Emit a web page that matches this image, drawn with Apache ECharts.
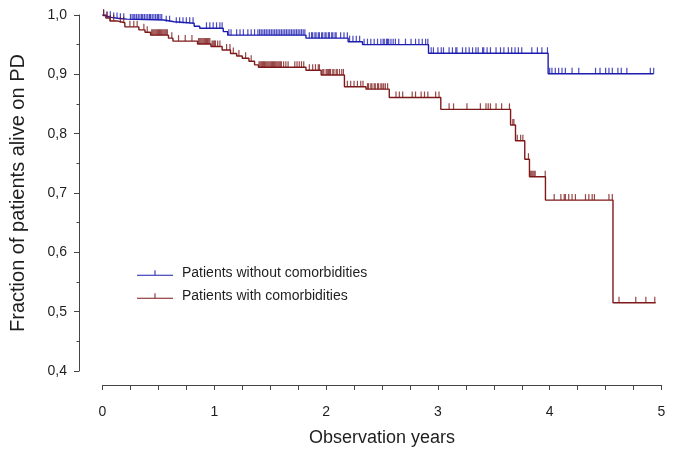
<!DOCTYPE html>
<html>
<head>
<meta charset="utf-8">
<script src="https://cdn.jsdelivr.net/npm/echarts@6/dist/echarts.min.js"></script>
<style>
html,body{margin:0;padding:0;background:#fff;}
#chart{width:678px;height:458px;}
</style>
</head>
<body>
<div id="chart"></div>
<script>
// ---- Data ----
var seriesNames = ['Patients without comorbidities', 'Patients with comorbidities'];

// Kaplan-Meier step points: time (years) and survival value from that time on
var blueTimes = [0, 0.01, 0.04, 0.08, 0.15, 0.22, 0.55, 0.64, 0.82, 0.87, 1.08, 1.12, 1.82, 2.197, 2.326, 2.916, 3.986];
var blueSurv  = [1.0, 0.998, 0.996, 0.994, 0.993, 0.9916, 0.9887, 0.986, 0.981, 0.9776, 0.972, 0.966, 0.961, 0.955, 0.950, 0.9355, 0.901];
var blueEnd = 4.93;

var redTimes = [0, 0.03, 0.067, 0.13, 0.20, 0.325, 0.38, 0.43, 0.59, 0.63, 0.85, 0.97, 1.07, 1.145, 1.20, 1.25, 1.31, 1.36, 1.395, 1.82, 1.956, 2.164, 2.357, 2.565, 3.026, 3.650, 3.694, 3.777, 3.819, 3.962, 4.566];
var redSurv  = [1.0, 0.995, 0.990, 0.987, 0.980, 0.975, 0.971, 0.966, 0.961, 0.956, 0.951, 0.947, 0.941, 0.935, 0.931, 0.927, 0.922, 0.916, 0.912, 0.907, 0.899, 0.879, 0.875, 0.861, 0.841, 0.8146, 0.788, 0.757, 0.7275, 0.688, 0.515];
var redEnd = 4.948;

// Censoring times (years)
var blueCensor = [0.01,0.04,0.07,0.10,0.13,0.16,0.19,
  0.25,0.265,0.28,0.29,0.305,0.32,0.335,0.35,0.36,0.375,0.39,0.405,0.42,0.43,0.445,0.46,0.475,0.49,0.50,0.515,0.53,
  0.57,0.60,0.66,0.69,0.72,0.75,0.78,0.81,
  0.93,0.96,0.99,1.02,1.05,1.07,
  1.13,1.15,1.20,1.23,1.26,1.30,1.33,1.36,
  1.39,1.405,1.42,1.435,1.45,1.465,1.48,1.495,1.51,1.525,1.54,1.555,1.57,1.585,1.60,1.615,1.63,1.645,1.66,1.675,1.69,1.705,1.72,1.735,1.75,1.765,1.78,1.795,1.81,
  1.85,1.87,1.88,1.90,1.91,1.93,1.94,1.96,1.97,1.99,2.00,2.02,2.03,2.05,2.06,2.08,2.09,2.13,2.16,2.19,
  2.21,2.24,2.27,2.30,
  2.34,2.37,2.40,2.43,2.46,2.49,2.51,2.52,2.54,2.55,2.56,2.58,2.60,2.62,2.65,2.71,2.76,2.80,2.83,2.86,2.89,2.91,
  2.94,2.96,3.00,3.03,3.05,3.10,3.13,3.16,3.17,3.22,3.25,3.28,3.31,3.34,3.36,3.40,3.41,3.44,3.47,3.52,3.56,3.59,3.63,3.66,3.69,3.72,3.75,3.84,3.89,3.93,3.98,
  4.00,4.02,4.05,4.08,4.11,4.14,4.20,4.26,4.41,4.45,4.50,4.53,4.56,4.61,4.64,4.69,4.90,4.93];

var redCensor = [0.01,0.04,0.07,0.10,0.16,0.19,0.245,0.28,0.31,0.37,0.40,
  0.44,0.45,0.46,0.47,0.48,0.49,0.50,0.51,0.52,0.53,0.54,0.55,0.56,0.57,0.58,
  0.62,0.68,0.74,0.80,
  0.86,0.87,0.88,0.89,0.90,0.91,0.92,0.93,0.94,0.95,0.96,0.98,0.99,1.00,1.01,1.03,1.05,
  1.11,1.14,1.17,1.22,1.28,1.33,
  1.40,1.41,1.42,1.43,1.44,1.45,1.46,1.47,1.48,1.49,1.50,1.51,1.52,1.53,1.54,1.55,1.56,1.57,1.58,1.59,1.60,1.62,1.64,1.66,1.72,1.74,1.76,1.78,1.80,
  1.85,1.88,1.905,1.93,1.94,
  1.97,1.98,2.00,2.01,2.02,2.03,2.04,2.06,2.07,2.09,2.10,2.12,2.14,2.155,
  2.19,2.22,2.25,2.28,2.31,2.33,
  2.37,2.38,2.40,2.41,2.43,2.44,2.46,2.47,2.49,2.50,2.515,2.53,2.55,
  2.625,2.655,2.685,2.77,2.80,2.85,2.88,2.91,2.98,3.01,
  3.10,3.14,3.26,3.38,3.43,3.45,3.47,3.52,3.57,3.64,
  3.67,3.68,
  3.71,3.74,3.76,
  3.81,
  3.83,3.84,3.85,3.86,3.87,3.96,
  4.04,4.10,4.13,4.14,4.17,4.20,4.23,4.32,4.35,4.38,4.40,4.53,4.56,
  4.62,4.77,4.86,4.94];

var xTickLabels = ['0','1','2','3','4','5'];

// ---- helpers to build series data from arrays ----
function stepData(times, surv, endT) {
  var d = [];
  for (var i = 0; i < times.length; i++) d.push([times[i], surv[i]]);
  d.push([endT, surv[surv.length - 1]]);
  return d;
}
function survAt(times, surv, t) {
  var s = surv[0];
  for (var i = 0; i < times.length; i++) { if (times[i] <= t) s = surv[i]; }
  return s;
}
function censorData(times, surv, cens) {
  return cens.map(function (t) { return [t, survAt(times, surv, t)]; });
}

var blueColor = '#1c1cb0';
var redColor = '#7d1919';
var textColor = '#1e1e1e';
var axisColor = '#444';
var font = 'Liberation Sans, Arial, sans-serif';

var chart = echarts.init(document.getElementById('chart'), null, {renderer: 'canvas'});
var legendIcon = 'path://M0,4.6H36V5.6H0Z M17.5,0H18.5V4.6H17.5Z';

var option = {
  animation: false,
  backgroundColor: '#fff',
  grid: {left: 100.5, right: 16.5, top: 15, bottom: 87, containLabel: false},
  legend: {
    data: seriesNames,
    orient: 'vertical',
    left: 137,
    top: 266,
    padding: 0,
    itemWidth: 36,
    itemHeight: 5.6,
    itemGap: 9,
    icon: legendIcon,
    symbolKeepAspect: false,
    textStyle: {fontFamily: font, fontSize: 14, color: textColor, padding: [0, 0, 0, 4]}
  },
  xAxis: {
    type: 'value',
    min: 0, max: 5, interval: 1,
    offset: 14,
    name: 'Observation years',
    nameLocation: 'middle',
    nameGap: 44,
    nameTextStyle: {fontFamily: font, fontSize: 18, color: textColor},
    axisLine: {show: true, onZero: false, lineStyle: {color: axisColor, width: 1}},
    axisTick: {show: true, length: 5, lineStyle: {color: axisColor}},
    minorTick: {show: true, splitNumber: 4, length: 5, lineStyle: {color: axisColor}},
    splitLine: {show: false},
    minorSplitLine: {show: false},
    axisLabel: {
      margin: 20,
      fontFamily: font, fontSize: 14, color: textColor,
      formatter: function (v) { return xTickLabels[Math.round(v)]; }
    }
  },
  yAxis: {
    type: 'value',
    min: 0.4, max: 1.0, interval: 0.1,
    offset: 23.5,
    name: 'Fraction of patients alive on PD',
    nameLocation: 'middle',
    nameGap: 51,
    nameTextStyle: {fontFamily: font, fontSize: 20, color: textColor},
    axisLine: {show: true, onZero: false, lineStyle: {color: axisColor, width: 1}},
    axisTick: {show: true, length: 5, lineStyle: {color: axisColor}},
    minorTick: {show: true, splitNumber: 2, length: 2.5, lineStyle: {color: axisColor}},
    splitLine: {show: false},
    minorSplitLine: {show: false},
    axisLabel: {
      margin: 12,
      fontFamily: font, fontSize: 14, color: textColor,
      formatter: function (v) { return v.toFixed(1).replace('.', ','); }
    }
  },
  series: [
    {
      name: seriesNames[0], type: 'line', step: 'end', showSymbol: false, symbol: 'none',
      color: blueColor, itemStyle: {color: blueColor},
      lineStyle: {color: blueColor, width: 1.4},
      data: stepData(blueTimes, blueSurv, blueEnd), z: 3
    },
    {
      name: seriesNames[1], type: 'line', step: 'end', showSymbol: false, symbol: 'none',
      color: redColor, itemStyle: {color: redColor},
      lineStyle: {color: redColor, width: 1.4},
      data: stepData(redTimes, redSurv, redEnd), z: 3
    },
    {
      name: 'censor-blue', type: 'scatter', symbol: 'rect', symbolSize: [1.2, 6], symbolOffset: [0, -3],
      itemStyle: {color: blueColor}, silent: true,
      data: censorData(blueTimes, blueSurv, blueCensor), z: 4
    },
    {
      name: 'censor-red', type: 'scatter', symbol: 'rect', symbolSize: [1.2, 6], symbolOffset: [0, -3],
      itemStyle: {color: redColor}, silent: true,
      data: censorData(redTimes, redSurv, redCensor), z: 4
    }
  ]
};
chart.setOption(option);
</script>
</body>
</html>
